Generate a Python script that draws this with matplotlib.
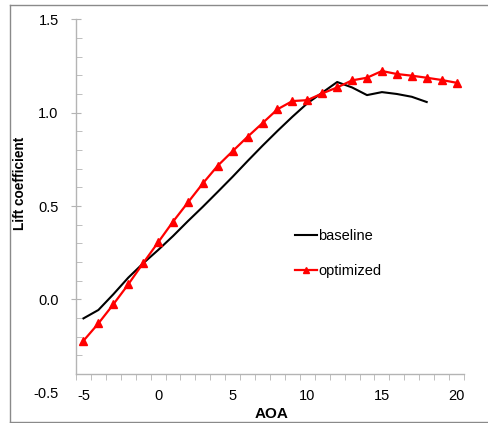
import numpy as np
import matplotlib
matplotlib.use('Agg')
import matplotlib.pyplot as plt
from matplotlib.lines import Line2D

plt.rcParams['font.family'] = ['Liberation Sans', 'DejaVu Sans']

# angle of attack (deg)
aoa_opt = [-5, -4, -3, -2, -1, 0, 1, 2, 3, 4, 5, 6, 7, 8, 9, 10,
           11, 12, 13, 14, 15, 16, 17, 18, 19, 20]
cl_opt = [-0.222, -0.129, -0.027, 0.080, 0.194, 0.305, 0.416, 0.519,
          0.621, 0.716, 0.794, 0.871, 0.944, 1.018, 1.062, 1.067,
          1.103, 1.135, 1.173, 1.187, 1.223, 1.207, 1.198, 1.187,
          1.175, 1.160]

aoa_base = [-5, -4, -3, -2, -1, 0, 1, 2, 3, 4, 5, 6, 7, 8, 9, 10,
            11, 12, 13, 14, 15, 16, 17, 18]
cl_base = [-0.102, -0.057, 0.027, 0.116, 0.193, 0.264, 0.339, 0.419,
           0.496, 0.576, 0.657, 0.741, 0.823, 0.902, 0.978, 1.050,
           1.107, 1.164, 1.135, 1.094, 1.110, 1.100, 1.085, 1.057]

xticks = [-5, 0, 5, 10, 15, 20]
yticks = [-0.5, 0.0, 0.5, 1.0, 1.5]

axis_gray = '#b4b4b4'

fig = plt.figure(figsize=(4.89, 4.23), dpi=100)
ax = fig.add_axes([76 / 489, 1 - 392.7 / 423, (464 - 76) / 489, (392.7 - 19.3) / 423])

ax.plot(aoa_base, cl_base, color='black', lw=1.5, label='baseline')
ax.plot(aoa_opt, cl_opt, color='#ff0000', lw=1.6, marker='^', ms=5.8,
        label='optimized')

ax.set_xlim(-5.5, 20.5)
ax.set_ylim(-0.5, 1.5)

for s in ['top', 'right']:
    ax.spines[s].set_visible(False)
ax.spines['bottom'].set_position(('data', -0.4))
ax.spines['left'].set_bounds(-0.4, 1.5)
for s in ['bottom', 'left']:
    ax.spines[s].set_color(axis_gray)
    ax.spines[s].set_linewidth(1.0)

# x: labels at integers, tick marks at half steps
ax.set_xticks(xticks)
ax.set_xticklabels([str(v) for v in xticks])
ax.set_xticks(np.arange(-5.5, 20.6, 1.0), minor=True)
ax.tick_params(axis='x', which='major', length=0, pad=11, labelsize=10.5)
ax.tick_params(axis='x', which='minor', direction='out', length=4,
               color=axis_gray)

ax.set_yticks(yticks)
ax.set_yticklabels(['%.1f' % v for v in yticks])
ax.set_yticks(np.arange(-0.4, 1.45, 0.1), minor=True)
ax.tick_params(axis='y', which='major', direction='inout', length=7,
               color=axis_gray, pad=9, labelsize=10.5)
ax.tick_params(axis='y', which='minor', direction='in', length=4,
               color=axis_gray)
ax.yaxis.get_major_ticks()[0].tick1line.set_visible(False)

fig.text(20 / 489, 1 - 183 / 423, 'Lift coefficient', rotation=90,
         fontsize=9.8, fontweight='bold', ha='center', va='center')
fig.text(272 / 489, 1 - 414 / 423, 'AOA', fontsize=11, fontweight='bold',
         ha='center', va='center')

ax.legend(loc='center left', bbox_to_anchor=(295 / 489, 1 - 253.5 / 423),
          bbox_transform=fig.transFigure, frameon=False, fontsize=10.5,
          handlelength=1.5, handletextpad=0.1, labelspacing=1.45,
          borderpad=0, borderaxespad=0, markerscale=0.85)

# outer frame of the original picture
frame = dict(color='#8a8a8a', lw=1.0, transform=fig.transFigure)
fig.add_artist(Line2D([10 / 489, 10 / 489], [1 - 422 / 423, 1 - 5 / 423], **frame))
fig.add_artist(Line2D([10 / 489, 1], [1 - 5 / 423, 1 - 5 / 423], **frame))
fig.add_artist(Line2D([10 / 489, 1], [1 - 422 / 423, 1 - 422 / 423], **frame))

fig.savefig('out.png', dpi=100)
